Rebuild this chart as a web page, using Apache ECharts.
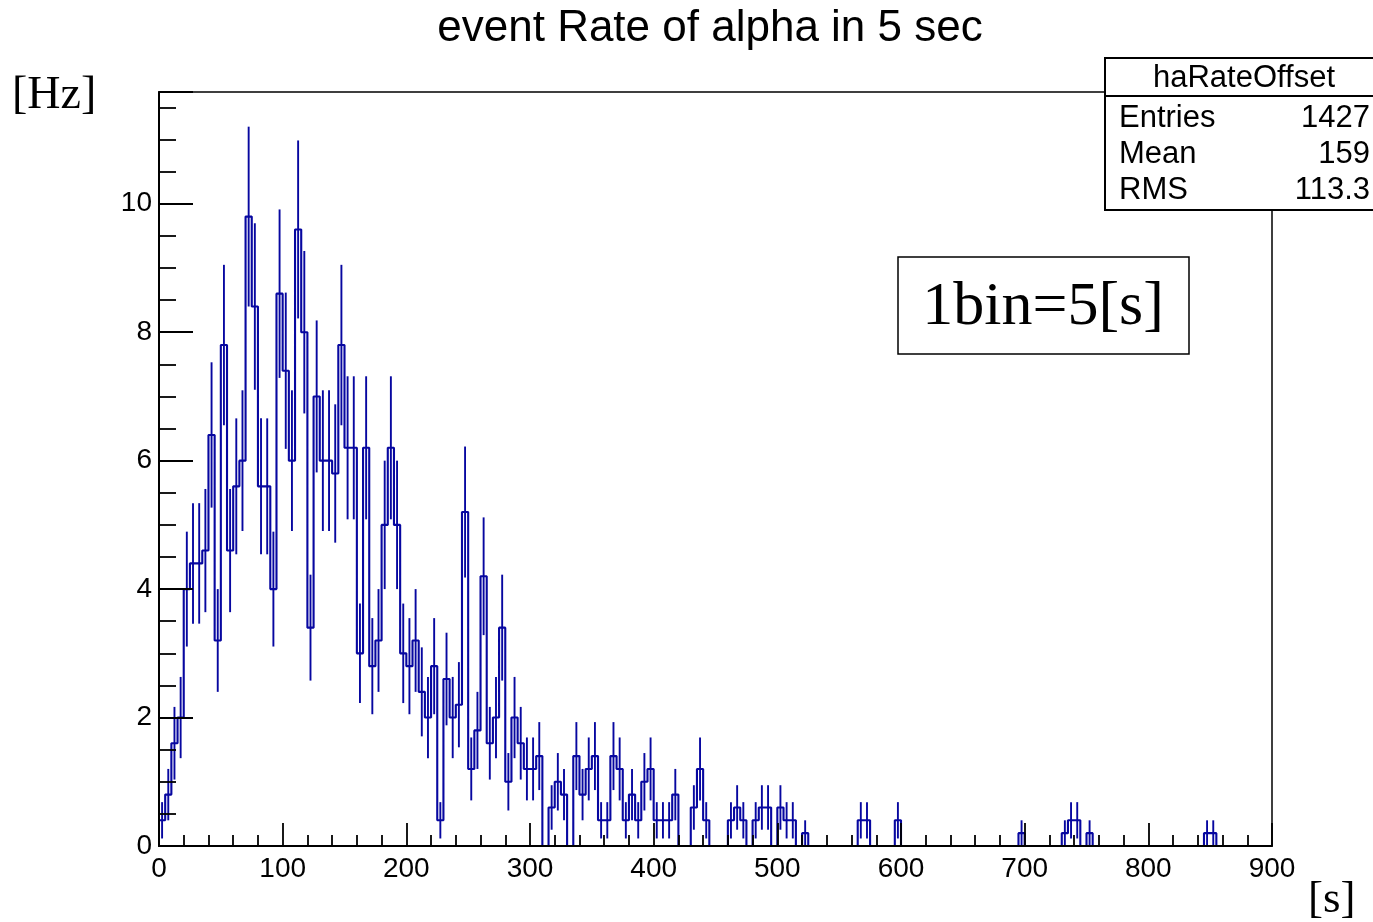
<!DOCTYPE html>
<html><head><meta charset="utf-8">
<script src="https://cdn.jsdelivr.net/npm/echarts@6/dist/echarts.min.js"></script>
<style>html,body{margin:0;padding:0;background:#fff}#c{width:1373px;height:922px}</style>
</head><body><div id="c"></div>
<script>
// ---- data ----
const binWidth = 5; // seconds per bin
const xMin = 0, xMax = 900;
// event rate [Hz] per 5 s bin (180 bins, 0..900 s)
const rates = [
  0.4, 0.8, 1.6, 2.0, 4.0, 4.4, 4.4, 4.6, 6.4, 3.2,
  7.8, 4.6, 5.6, 6.0, 9.8, 8.4, 5.6, 5.6, 4.0, 8.6,
  7.4, 6.0, 9.6, 8.0, 3.4, 7.0, 6.0, 6.0, 5.8, 7.8,
  6.2, 6.2, 3.0, 6.2, 2.8, 3.2, 5.0, 6.2, 5.0, 3.0,
  2.8, 3.2, 2.4, 2.0, 2.8, 0.4, 2.6, 2.0, 2.2, 5.2,
  1.2, 1.8, 4.2, 1.6, 2.0, 3.4, 1.0, 2.0, 1.6, 1.2,
  1.2, 1.4, 0, 0.6, 1.0, 0.8, 0, 1.4, 0.8, 1.2,
  1.4, 0.4, 0.4, 1.4, 1.2, 0.4, 0.8, 0.4, 1.0, 1.2,
  0.4, 0.4, 0.4, 0.8, 0, 0, 0.6, 1.2, 0.4, 0,
  0, 0, 0.4, 0.6, 0.4, 0, 0.4, 0.6, 0.6, 0,
  0.6, 0.4, 0.4, 0, 0.2, 0, 0, 0, 0, 0,
  0, 0, 0, 0.4, 0.4, 0, 0, 0, 0, 0.4,
  0, 0, 0, 0, 0, 0, 0, 0, 0, 0,
  0, 0, 0, 0, 0, 0, 0, 0, 0, 0.2,
  0, 0, 0, 0, 0, 0, 0.2, 0.4, 0.4, 0,
  0.2, 0, 0, 0, 0, 0, 0, 0, 0, 0,
  0, 0, 0, 0, 0, 0, 0, 0, 0, 0.2,
  0.2, 0, 0, 0, 0, 0, 0, 0, 0, 0
];
const xTickLabels = ['0','100','200','300','400','500','600','700','800','900'];
const yTickLabels = ['0','2','4','6','8','10'];
const titleText = 'event Rate of alpha in 5 sec';
const statsName = 'haRateOffset';
const statsRows = [['Entries','1427'],['Mean','159'],['RMS','113.3']];
const yUnit = '[Hz]', xUnit = '[s]', noteText = '1bin=5[s]';

// bin left edges and Poisson errors (sqrt(N)/binWidth, N = rate*binWidth)
const binEdges = rates.map((v, i) => xMin + i * binWidth);
const errors = rates.map(v => Math.sqrt(v * binWidth) / binWidth);

const stepData = rates.map((v, i) => [binEdges[i], v]);
stepData.push([xMax, rates[rates.length - 1]]);
const errData = rates.map((v, i) => [binEdges[i] + binWidth / 2, v, errors[i]]);

const HC = '#0707a0';
const FS = 'Liberation Sans, Arial, sans-serif';
const SERIF = 'Liberation Serif, Times New Roman, serif';
const yMax = 11.74;

const chart = echarts.init(document.getElementById('c'), null, {renderer: 'canvas'});
chart.setOption({
  animation: false,
  backgroundColor: '#fff',
  grid: {left: 159, top: 92, width: 1113, height: 754, show: true,
         borderColor: '#000', borderWidth: 1.5, backgroundColor: 'transparent'},
  xAxis: {
    type: 'value', min: xMin, max: xMax, interval: 100, z: 10,
    axisLine: {show: true, onZero: false, lineStyle: {color: '#000', width: 2}},
    axisTick: {show: true, inside: true, length: 23, lineStyle: {color: '#000', width: 1.8}},
    minorTick: {show: true, splitNumber: 5, length: 11, lineStyle: {color: '#000', width: 1.8}},
    splitLine: {show: false}, minorSplitLine: {show: false},
    axisLabel: {show: true, margin: 9, fontSize: 28, color: '#000', fontFamily: FS, hideOverlap: false,
      formatter: v => xTickLabels.includes(String(v)) ? String(v) : ''}
  },
  yAxis: [{
    type: 'value', min: 0, max: yMax, interval: 2, z: 10,
    axisLine: {show: true, onZero: false, lineStyle: {color: '#000', width: 2}},
    axisTick: {show: true, inside: true, length: 34, lineStyle: {color: '#000', width: 1.8}},
    splitLine: {show: false},
    axisLabel: {show: true, margin: 7, fontSize: 28, color: '#000', fontFamily: FS, hideOverlap: false,
      formatter: v => yTickLabels.includes(String(v)) ? String(v) : ''}
  }, {
    type: 'value', min: 0, max: yMax, interval: 0.5, position: 'left', z: 10,
    axisLine: {show: false},
    axisTick: {show: true, inside: true, length: 17, lineStyle: {color: '#000', width: 1.8}},
    splitLine: {show: false}, axisLabel: {show: false}
  }],
  series: [{
    type: 'line', step: 'end', data: stepData, symbol: 'none', yAxisIndex: 0,
    lineStyle: {color: HC, width: 2.1}, z: 3, silent: true
  }, {
    type: 'custom', data: errData, yAxisIndex: 0, z: 3, silent: true,
    renderItem: (params, api) => {
      const x = api.value(0), v = api.value(1), e = api.value(2);
      if (!(e > 0)) return null;
      const p1 = api.coord([x, v - e]), p2 = api.coord([x, v + e]);
      return {type: 'line', shape: {x1: p1[0], y1: p1[1], x2: p2[0], y2: p2[1]},
              style: {stroke: HC, lineWidth: 1.9}};
    }
  }],
  graphic: [
    {type: 'text', x: 710, y: 29, z: 100, style: {text: titleText, font: '44px ' + FS, fill: '#000', textAlign: 'center', textVerticalAlign: 'middle'}},
    {type: 'text', x: 12, y: 96, z: 100, style: {text: yUnit, font: '46px ' + SERIF, fill: '#000', textAlign: 'left', textVerticalAlign: 'middle'}},
    {type: 'text', x: 1308, y: 900, z: 100, style: {text: xUnit, font: '45px ' + SERIF, fill: '#000', textAlign: 'left', textVerticalAlign: 'middle'}},
    {type: 'rect', z: 100, shape: {x: 1105, y: 58, width: 300, height: 152}, style: {fill: '#fff', stroke: '#000', lineWidth: 2}},
    {type: 'line', z: 101, shape: {x1: 1105, y1: 96, x2: 1400, y2: 96}, style: {stroke: '#000', lineWidth: 2}},
    {type: 'text', x: 1244, y: 78, z: 102, style: {text: statsName, font: '31px ' + FS, fill: '#000', textAlign: 'center', textVerticalAlign: 'middle'}},
    ...statsRows.flatMap((r, i) => [
      {type: 'text', x: 1119, y: 118 + i * 36, z: 102, style: {text: r[0], font: '31px ' + FS, fill: '#000', textAlign: 'left', textVerticalAlign: 'middle'}},
      {type: 'text', x: 1370, y: 118 + i * 36, z: 102, style: {text: r[1], font: '31px ' + FS, fill: '#000', textAlign: 'right', textVerticalAlign: 'middle'}}
    ]),
    {type: 'rect', z: 100, shape: {x: 898, y: 257, width: 291, height: 97}, style: {fill: '#fff', stroke: '#000', lineWidth: 1.5}},
    {type: 'text', x: 1043, y: 308, z: 102, style: {text: noteText, font: '62px ' + SERIF, fill: '#000', textAlign: 'center', textVerticalAlign: 'middle'}}
  ]
});
</script></body></html>
